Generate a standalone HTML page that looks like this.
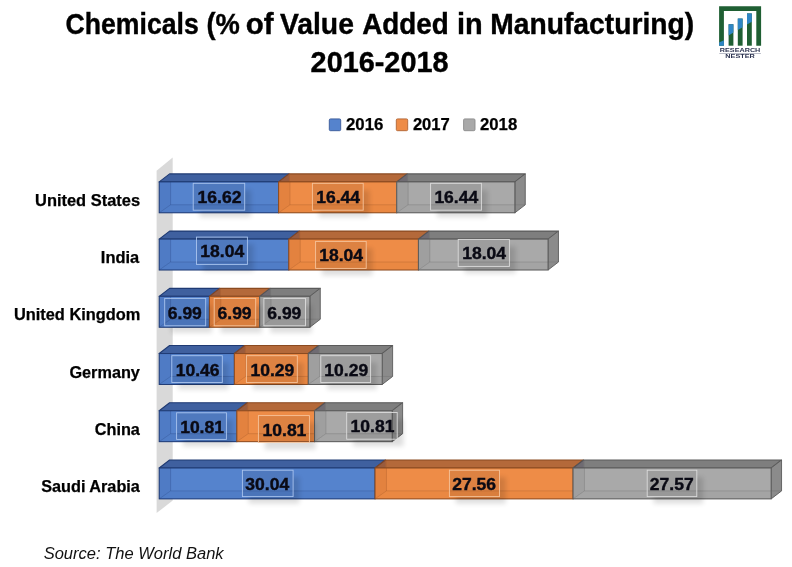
<!DOCTYPE html>
<html><head><meta charset="utf-8"><title>Chart</title>
<style>
html,body{margin:0;padding:0;background:#fff;}
body{width:792px;height:567px;overflow:hidden;position:relative;font-family:"Liberation Sans",sans-serif;}
svg{position:absolute;left:0;top:0;display:block;will-change:transform;}
text{font-family:"Liberation Sans",sans-serif;}
</style></head><body>
<svg width="792" height="567" viewBox="0 0 792 567">
<defs>
<filter id="sh" x="-30%" y="-30%" width="170%" height="200%"><feGaussianBlur stdDeviation="2.6"/></filter>
</defs>
<rect width="792" height="567" fill="#ffffff"/>

<text x="65.57" y="33.6" font-size="29.5" font-weight="bold" fill="#000" stroke="#000" stroke-width="0.4" textLength="133.21" lengthAdjust="spacingAndGlyphs">Chemicals</text>
<text x="206.52" y="33.6" font-size="29.5" font-weight="bold" fill="#000" stroke="#000" stroke-width="0.4" textLength="33.37" lengthAdjust="spacingAndGlyphs">(%</text>
<text x="245.68" y="33.6" font-size="29.5" font-weight="bold" fill="#000" stroke="#000" stroke-width="0.4" textLength="27.8" lengthAdjust="spacingAndGlyphs">of</text>
<text x="279.9" y="33.6" font-size="29.5" font-weight="bold" fill="#000" stroke="#000" stroke-width="0.4" textLength="74.01" lengthAdjust="spacingAndGlyphs">Value</text>
<text x="362.16" y="33.6" font-size="29.5" font-weight="bold" fill="#000" stroke="#000" stroke-width="0.4" textLength="86.62" lengthAdjust="spacingAndGlyphs">Added</text>
<text x="456.99" y="33.6" font-size="29.5" font-weight="bold" fill="#000" stroke="#000" stroke-width="0.4" textLength="25.71" lengthAdjust="spacingAndGlyphs">in</text>
<text x="490.23" y="33.6" font-size="29.5" font-weight="bold" fill="#000" stroke="#000" stroke-width="0.4" textLength="203.99" lengthAdjust="spacingAndGlyphs">Manufacturing)</text>
<text x="310.6" y="72" font-size="29.4" font-weight="bold" fill="#000" stroke="#000" stroke-width="0.4" textLength="137.92" lengthAdjust="spacingAndGlyphs">2016-2018</text>
<rect x="329.3" y="118.9" width="11.4" height="11.8" rx="1.2" fill="#5583cd" stroke="#3a5a98" stroke-width="0.9"/>
<text x="345.98" y="130.3" font-size="16.8" font-weight="bold" fill="#000" stroke="#000" stroke-width="0.25" textLength="37.34" lengthAdjust="spacingAndGlyphs">2016</text>
<rect x="396.3" y="118.9" width="11.4" height="11.8" rx="1.2" fill="#ee8c47" stroke="#b06434" stroke-width="0.9"/>
<text x="412.88" y="130.3" font-size="16.8" font-weight="bold" fill="#000" stroke="#000" stroke-width="0.25" textLength="36.99" lengthAdjust="spacingAndGlyphs">2017</text>
<rect x="463.6" y="118.9" width="11.4" height="11.8" rx="1.2" fill="#a9a9a9" stroke="#8b8b8b" stroke-width="0.9"/>
<text x="479.98" y="130.3" font-size="16.8" font-weight="bold" fill="#000" stroke="#000" stroke-width="0.25" textLength="37.24" lengthAdjust="spacingAndGlyphs">2018</text>
<polygon points="156.6,170.8 172.7,157.6 172.7,500.5 156.6,513.1" fill="#d9d9d9"/>
<text x="35.03" y="206" font-size="16.2" font-weight="bold" fill="#000" stroke="#000" stroke-width="0.25" textLength="105.04" lengthAdjust="spacingAndGlyphs">United States</text>
<polygon points="159.2,181.9 169.6,173.9 289.01,173.9 278.61,181.9" fill="#3f609f" stroke="#1f3a73" stroke-width="1.1" stroke-linejoin="round"/>
<polygon points="278.61,181.9 289.01,173.9 407.14,173.9 396.74,181.9" fill="#b4693a" stroke="#8a4a20" stroke-width="1.1" stroke-linejoin="round"/>
<polygon points="396.74,181.9 407.14,173.9 525.26,173.9 514.86,181.9" fill="#7e7e7e" stroke="#5a5a5a" stroke-width="1.1" stroke-linejoin="round"/>
<polygon points="278.61,181.9 289.01,173.9 289.01,181.9" fill="#3a2a4a" fill-opacity="0.22"/>
<path d="M289.51,173.9 V181.9" stroke="#8a4a20" stroke-opacity="0.35" stroke-width="0.8" fill="none"/>
<polygon points="396.74,181.9 407.14,173.9 407.14,181.9" fill="#3a2a4a" fill-opacity="0.22"/>
<path d="M407.64,173.9 V181.9" stroke="#5a5a5a" stroke-opacity="0.35" stroke-width="0.8" fill="none"/>
<polygon points="514.86,181.9 525.26,173.9 525.26,204.8 514.86,212.8" fill="#8b8b8b" stroke="#5a5a5a" stroke-width="0.9" stroke-linejoin="round"/>
<path d="M514.86,204.8 H525.26" stroke="#5a5a5a" stroke-opacity="0.3" stroke-width="0.8" fill="none"/>
<rect x="159.2" y="181.9" width="119.41" height="30.9" fill="#5583cd"/>
<polygon points="159.2,181.9 170.6,181.9 170.6,204.8 159.2,212.8" fill="#4f7bc5"/>
<polygon points="159.2,212.8 170.6,204.8 278.61,204.8 278.61,212.8" fill="#507dc7"/>
<path d="M170.6,181.9 V204.8 H278.61 M159.2,212.8 L170.6,204.8" fill="none" stroke="#1f3a73" stroke-opacity="0.28" stroke-width="0.9"/>
<rect x="159.2" y="181.9" width="119.41" height="30.9" fill="none" stroke="#1f3a73" stroke-width="1"/>
<rect x="278.61" y="181.9" width="118.12" height="30.9" fill="#ee8c47"/>
<polygon points="278.61,181.9 290.01,181.9 290.01,204.8 278.61,212.8" fill="#e3823f"/>
<polygon points="278.61,212.8 290.01,204.8 396.74,204.8 396.74,212.8" fill="#ea8842"/>
<path d="M290.01,181.9 V204.8 H396.74 M278.61,212.8 L290.01,204.8" fill="none" stroke="#8a4a20" stroke-opacity="0.28" stroke-width="0.9"/>
<rect x="278.61" y="181.9" width="118.12" height="30.9" fill="none" stroke="#8a4a20" stroke-width="1"/>
<rect x="396.74" y="181.9" width="118.12" height="30.9" fill="#a9a9a9"/>
<polygon points="396.74,181.9 408.14,181.9 408.14,204.8 396.74,212.8" fill="#9f9f9f"/>
<polygon points="396.74,212.8 408.14,204.8 514.86,204.8 514.86,212.8" fill="#a4a4a4"/>
<path d="M408.14,181.9 V204.8 H514.86 M396.74,212.8 L408.14,204.8" fill="none" stroke="#5a5a5a" stroke-opacity="0.28" stroke-width="0.9"/>
<rect x="396.74" y="181.9" width="118.12" height="30.9" fill="none" stroke="#5a5a5a" stroke-width="1"/>
<clipPath id="c00"><path clip-rule="evenodd" d="M0,0H792V567H0Z M193.2,183.3H244.7V210.2H193.2Z"/></clipPath>
<g clip-path="url(#c00)"><rect x="199.5" y="190.3" width="51.5" height="26.9" fill="#000" opacity="0.13" filter="url(#sh)"/></g>
<clipPath id="c01"><path clip-rule="evenodd" d="M0,0H792V567H0Z M312.4,183.3H363.2V210.2H312.4Z"/></clipPath>
<g clip-path="url(#c01)"><rect x="318.7" y="190.3" width="50.8" height="26.9" fill="#000" opacity="0.13" filter="url(#sh)"/></g>
<clipPath id="c02"><path clip-rule="evenodd" d="M0,0H792V567H0Z M430.6,183.3H481.4V210.2H430.6Z"/></clipPath>
<g clip-path="url(#c02)"><rect x="436.9" y="190.3" width="50.8" height="26.9" fill="#000" opacity="0.13" filter="url(#sh)"/></g>
<rect x="193.2" y="183.3" width="51.5" height="26.9" fill="#000" fill-opacity="0.07" stroke="#a9c4ee" stroke-width="0.9"/>
<text x="197.62" y="203.25" font-size="16.5" font-weight="bold" fill="#0a0a14" stroke="#0a0a14" stroke-width="0.4" textLength="43.79" lengthAdjust="spacingAndGlyphs">16.62</text>
<rect x="312.4" y="183.3" width="50.8" height="26.9" fill="#000" fill-opacity="0.07" stroke="#f6c39b" stroke-width="0.9"/>
<text x="316.2" y="203.25" font-size="16.5" font-weight="bold" fill="#0a0a14" stroke="#0a0a14" stroke-width="0.4" textLength="43.79" lengthAdjust="spacingAndGlyphs">16.44</text>
<rect x="430.6" y="183.3" width="50.8" height="26.9" fill="#000" fill-opacity="0.07" stroke="#dcdcdc" stroke-width="0.9"/>
<text x="434.4" y="203.25" font-size="16.5" font-weight="bold" fill="#0a0a14" stroke="#0a0a14" stroke-width="0.4" textLength="43.79" lengthAdjust="spacingAndGlyphs">16.44</text>
<text x="100.87" y="263.22" font-size="16.2" font-weight="bold" fill="#000" stroke="#000" stroke-width="0.25" textLength="38.42" lengthAdjust="spacingAndGlyphs">India</text>
<polygon points="159.2,239.12 169.6,231.12 299.22,231.12 288.82,239.12" fill="#3f609f" stroke="#1f3a73" stroke-width="1.1" stroke-linejoin="round"/>
<polygon points="288.82,239.12 299.22,231.12 428.83,231.12 418.43,239.12" fill="#b4693a" stroke="#8a4a20" stroke-width="1.1" stroke-linejoin="round"/>
<polygon points="418.43,239.12 428.83,231.12 558.45,231.12 548.05,239.12" fill="#7e7e7e" stroke="#5a5a5a" stroke-width="1.1" stroke-linejoin="round"/>
<polygon points="288.82,239.12 299.22,231.12 299.22,239.12" fill="#3a2a4a" fill-opacity="0.22"/>
<path d="M299.72,231.12 V239.12" stroke="#8a4a20" stroke-opacity="0.35" stroke-width="0.8" fill="none"/>
<polygon points="418.43,239.12 428.83,231.12 428.83,239.12" fill="#3a2a4a" fill-opacity="0.22"/>
<path d="M429.33,231.12 V239.12" stroke="#5a5a5a" stroke-opacity="0.35" stroke-width="0.8" fill="none"/>
<polygon points="548.05,239.12 558.45,231.12 558.45,262.02 548.05,270.02" fill="#8b8b8b" stroke="#5a5a5a" stroke-width="0.9" stroke-linejoin="round"/>
<path d="M548.05,262.02 H558.45" stroke="#5a5a5a" stroke-opacity="0.3" stroke-width="0.8" fill="none"/>
<rect x="159.2" y="239.12" width="129.62" height="30.9" fill="#5583cd"/>
<polygon points="159.2,239.12 170.6,239.12 170.6,262.02 159.2,270.02" fill="#4f7bc5"/>
<polygon points="159.2,270.02 170.6,262.02 288.82,262.02 288.82,270.02" fill="#507dc7"/>
<path d="M170.6,239.12 V262.02 H288.82 M159.2,270.02 L170.6,262.02" fill="none" stroke="#1f3a73" stroke-opacity="0.28" stroke-width="0.9"/>
<rect x="159.2" y="239.12" width="129.62" height="30.9" fill="none" stroke="#1f3a73" stroke-width="1"/>
<rect x="288.82" y="239.12" width="129.62" height="30.9" fill="#ee8c47"/>
<polygon points="288.82,239.12 300.22,239.12 300.22,262.02 288.82,270.02" fill="#e3823f"/>
<polygon points="288.82,270.02 300.22,262.02 418.43,262.02 418.43,270.02" fill="#ea8842"/>
<path d="M300.22,239.12 V262.02 H418.43 M288.82,270.02 L300.22,262.02" fill="none" stroke="#8a4a20" stroke-opacity="0.28" stroke-width="0.9"/>
<rect x="288.82" y="239.12" width="129.62" height="30.9" fill="none" stroke="#8a4a20" stroke-width="1"/>
<rect x="418.43" y="239.12" width="129.62" height="30.9" fill="#a9a9a9"/>
<polygon points="418.43,239.12 429.83,239.12 429.83,262.02 418.43,270.02" fill="#9f9f9f"/>
<polygon points="418.43,270.02 429.83,262.02 548.05,262.02 548.05,270.02" fill="#a4a4a4"/>
<path d="M429.83,239.12 V262.02 H548.05 M418.43,270.02 L429.83,262.02" fill="none" stroke="#5a5a5a" stroke-opacity="0.28" stroke-width="0.9"/>
<rect x="418.43" y="239.12" width="129.62" height="30.9" fill="none" stroke="#5a5a5a" stroke-width="1"/>
<clipPath id="c10"><path clip-rule="evenodd" d="M0,0H792V567H0Z M196.5,237.1H247.4V264.4H196.5Z"/></clipPath>
<g clip-path="url(#c10)"><rect x="202.8" y="244.1" width="50.9" height="27.3" fill="#000" opacity="0.13" filter="url(#sh)"/></g>
<clipPath id="c11"><path clip-rule="evenodd" d="M0,0H792V567H0Z M315.6,241.4H366.2V268.4H315.6Z"/></clipPath>
<g clip-path="url(#c11)"><rect x="321.9" y="248.4" width="50.6" height="27" fill="#000" opacity="0.13" filter="url(#sh)"/></g>
<clipPath id="c12"><path clip-rule="evenodd" d="M0,0H792V567H0Z M458.2,239.5H509.4V266.4H458.2Z"/></clipPath>
<g clip-path="url(#c12)"><rect x="464.5" y="246.5" width="51.2" height="26.9" fill="#000" opacity="0.13" filter="url(#sh)"/></g>
<rect x="196.5" y="237.1" width="50.9" height="27.3" fill="#000" fill-opacity="0.07" stroke="#a9c4ee" stroke-width="0.9"/>
<text x="200.35" y="257.25" font-size="16.5" font-weight="bold" fill="#0a0a14" stroke="#0a0a14" stroke-width="0.4" textLength="43.79" lengthAdjust="spacingAndGlyphs">18.04</text>
<rect x="315.6" y="241.4" width="50.6" height="27" fill="#000" fill-opacity="0.07" stroke="#f6c39b" stroke-width="0.9"/>
<text x="319.3" y="261.4" font-size="16.5" font-weight="bold" fill="#0a0a14" stroke="#0a0a14" stroke-width="0.4" textLength="43.79" lengthAdjust="spacingAndGlyphs">18.04</text>
<rect x="458.2" y="239.5" width="51.2" height="26.9" fill="#000" fill-opacity="0.07" stroke="#dcdcdc" stroke-width="0.9"/>
<text x="462.2" y="259.45" font-size="16.5" font-weight="bold" fill="#0a0a14" stroke="#0a0a14" stroke-width="0.4" textLength="43.79" lengthAdjust="spacingAndGlyphs">18.04</text>
<text x="13.93" y="320.44" font-size="16.2" font-weight="bold" fill="#000" stroke="#000" stroke-width="0.25" textLength="126.47" lengthAdjust="spacingAndGlyphs">United Kingdom</text>
<polygon points="159.2,296.34 169.6,288.34 219.82,288.34 209.42,296.34" fill="#3f609f" stroke="#1f3a73" stroke-width="1.1" stroke-linejoin="round"/>
<polygon points="209.42,296.34 219.82,288.34 270.05,288.34 259.65,296.34" fill="#b4693a" stroke="#8a4a20" stroke-width="1.1" stroke-linejoin="round"/>
<polygon points="259.65,296.34 270.05,288.34 320.27,288.34 309.87,296.34" fill="#7e7e7e" stroke="#5a5a5a" stroke-width="1.1" stroke-linejoin="round"/>
<polygon points="209.42,296.34 219.82,288.34 219.82,296.34" fill="#3a2a4a" fill-opacity="0.22"/>
<path d="M220.32,288.34 V296.34" stroke="#8a4a20" stroke-opacity="0.35" stroke-width="0.8" fill="none"/>
<polygon points="259.65,296.34 270.05,288.34 270.05,296.34" fill="#3a2a4a" fill-opacity="0.22"/>
<path d="M270.55,288.34 V296.34" stroke="#5a5a5a" stroke-opacity="0.35" stroke-width="0.8" fill="none"/>
<polygon points="309.87,296.34 320.27,288.34 320.27,319.24 309.87,327.24" fill="#8b8b8b" stroke="#5a5a5a" stroke-width="0.9" stroke-linejoin="round"/>
<path d="M309.87,319.24 H320.27" stroke="#5a5a5a" stroke-opacity="0.3" stroke-width="0.8" fill="none"/>
<rect x="159.2" y="296.34" width="50.22" height="30.9" fill="#5583cd"/>
<polygon points="159.2,296.34 170.6,296.34 170.6,319.24 159.2,327.24" fill="#4f7bc5"/>
<polygon points="159.2,327.24 170.6,319.24 209.42,319.24 209.42,327.24" fill="#507dc7"/>
<path d="M170.6,296.34 V319.24 H209.42 M159.2,327.24 L170.6,319.24" fill="none" stroke="#1f3a73" stroke-opacity="0.28" stroke-width="0.9"/>
<rect x="159.2" y="296.34" width="50.22" height="30.9" fill="none" stroke="#1f3a73" stroke-width="1"/>
<rect x="209.42" y="296.34" width="50.22" height="30.9" fill="#ee8c47"/>
<polygon points="209.42,296.34 220.82,296.34 220.82,319.24 209.42,327.24" fill="#e3823f"/>
<polygon points="209.42,327.24 220.82,319.24 259.65,319.24 259.65,327.24" fill="#ea8842"/>
<path d="M220.82,296.34 V319.24 H259.65 M209.42,327.24 L220.82,319.24" fill="none" stroke="#8a4a20" stroke-opacity="0.28" stroke-width="0.9"/>
<rect x="209.42" y="296.34" width="50.22" height="30.9" fill="none" stroke="#8a4a20" stroke-width="1"/>
<rect x="259.65" y="296.34" width="50.22" height="30.9" fill="#a9a9a9"/>
<polygon points="259.65,296.34 271.05,296.34 271.05,319.24 259.65,327.24" fill="#9f9f9f"/>
<polygon points="259.65,327.24 271.05,319.24 309.87,319.24 309.87,327.24" fill="#a4a4a4"/>
<path d="M271.05,296.34 V319.24 H309.87 M259.65,327.24 L271.05,319.24" fill="none" stroke="#5a5a5a" stroke-opacity="0.28" stroke-width="0.9"/>
<rect x="259.65" y="296.34" width="50.22" height="30.9" fill="none" stroke="#5a5a5a" stroke-width="1"/>
<clipPath id="c20"><path clip-rule="evenodd" d="M0,0H792V567H0Z M164.7,298.4H205.7V325.8H164.7Z"/></clipPath>
<g clip-path="url(#c20)"><rect x="171" y="305.4" width="41" height="27.4" fill="#000" opacity="0.13" filter="url(#sh)"/></g>
<clipPath id="c21"><path clip-rule="evenodd" d="M0,0H792V567H0Z M214.2,298.4H255.7V325.8H214.2Z"/></clipPath>
<g clip-path="url(#c21)"><rect x="220.5" y="305.4" width="41.5" height="27.4" fill="#000" opacity="0.13" filter="url(#sh)"/></g>
<clipPath id="c22"><path clip-rule="evenodd" d="M0,0H792V567H0Z M263.9,298.4H305.5V325.8H263.9Z"/></clipPath>
<g clip-path="url(#c22)"><rect x="270.2" y="305.4" width="41.6" height="27.4" fill="#000" opacity="0.13" filter="url(#sh)"/></g>
<rect x="164.7" y="298.4" width="41" height="27.4" fill="#000" fill-opacity="0.07" stroke="#a9c4ee" stroke-width="0.9"/>
<text x="167.81" y="318.6" font-size="16.5" font-weight="bold" fill="#0a0a14" stroke="#0a0a14" stroke-width="0.4" textLength="34.06" lengthAdjust="spacingAndGlyphs">6.99</text>
<rect x="214.2" y="298.4" width="41.5" height="27.4" fill="#000" fill-opacity="0.07" stroke="#f6c39b" stroke-width="0.9"/>
<text x="217.56" y="318.6" font-size="16.5" font-weight="bold" fill="#0a0a14" stroke="#0a0a14" stroke-width="0.4" textLength="34.06" lengthAdjust="spacingAndGlyphs">6.99</text>
<rect x="263.9" y="298.4" width="41.6" height="27.4" fill="#000" fill-opacity="0.07" stroke="#dcdcdc" stroke-width="0.9"/>
<text x="267.31" y="318.6" font-size="16.5" font-weight="bold" fill="#0a0a14" stroke="#0a0a14" stroke-width="0.4" textLength="34.06" lengthAdjust="spacingAndGlyphs">6.99</text>
<text x="139.9" y="377.66" font-size="16.25" font-weight="bold" fill="#000" stroke="#000" stroke-width="0.25" text-anchor="end">Germany</text>
<polygon points="159.2,353.56 169.6,345.56 244.76,345.56 234.36,353.56" fill="#3f609f" stroke="#1f3a73" stroke-width="1.1" stroke-linejoin="round"/>
<polygon points="234.36,353.56 244.76,345.56 318.69,345.56 308.29,353.56" fill="#b4693a" stroke="#8a4a20" stroke-width="1.1" stroke-linejoin="round"/>
<polygon points="308.29,353.56 318.69,345.56 392.62,345.56 382.22,353.56" fill="#7e7e7e" stroke="#5a5a5a" stroke-width="1.1" stroke-linejoin="round"/>
<polygon points="234.36,353.56 244.76,345.56 244.76,353.56" fill="#3a2a4a" fill-opacity="0.22"/>
<path d="M245.26,345.56 V353.56" stroke="#8a4a20" stroke-opacity="0.35" stroke-width="0.8" fill="none"/>
<polygon points="308.29,353.56 318.69,345.56 318.69,353.56" fill="#3a2a4a" fill-opacity="0.22"/>
<path d="M319.19,345.56 V353.56" stroke="#5a5a5a" stroke-opacity="0.35" stroke-width="0.8" fill="none"/>
<polygon points="382.22,353.56 392.62,345.56 392.62,376.46 382.22,384.46" fill="#8b8b8b" stroke="#5a5a5a" stroke-width="0.9" stroke-linejoin="round"/>
<path d="M382.22,376.46 H392.62" stroke="#5a5a5a" stroke-opacity="0.3" stroke-width="0.8" fill="none"/>
<rect x="159.2" y="353.56" width="75.16" height="30.9" fill="#5583cd"/>
<polygon points="159.2,353.56 170.6,353.56 170.6,376.46 159.2,384.46" fill="#4f7bc5"/>
<polygon points="159.2,384.46 170.6,376.46 234.36,376.46 234.36,384.46" fill="#507dc7"/>
<path d="M170.6,353.56 V376.46 H234.36 M159.2,384.46 L170.6,376.46" fill="none" stroke="#1f3a73" stroke-opacity="0.28" stroke-width="0.9"/>
<rect x="159.2" y="353.56" width="75.16" height="30.9" fill="none" stroke="#1f3a73" stroke-width="1"/>
<rect x="234.36" y="353.56" width="73.93" height="30.9" fill="#ee8c47"/>
<polygon points="234.36,353.56 245.76,353.56 245.76,376.46 234.36,384.46" fill="#e3823f"/>
<polygon points="234.36,384.46 245.76,376.46 308.29,376.46 308.29,384.46" fill="#ea8842"/>
<path d="M245.76,353.56 V376.46 H308.29 M234.36,384.46 L245.76,376.46" fill="none" stroke="#8a4a20" stroke-opacity="0.28" stroke-width="0.9"/>
<rect x="234.36" y="353.56" width="73.93" height="30.9" fill="none" stroke="#8a4a20" stroke-width="1"/>
<rect x="308.29" y="353.56" width="73.93" height="30.9" fill="#a9a9a9"/>
<polygon points="308.29,353.56 319.69,353.56 319.69,376.46 308.29,384.46" fill="#9f9f9f"/>
<polygon points="308.29,384.46 319.69,376.46 382.22,376.46 382.22,384.46" fill="#a4a4a4"/>
<path d="M319.69,353.56 V376.46 H382.22 M308.29,384.46 L319.69,376.46" fill="none" stroke="#5a5a5a" stroke-opacity="0.28" stroke-width="0.9"/>
<rect x="308.29" y="353.56" width="73.93" height="30.9" fill="none" stroke="#5a5a5a" stroke-width="1"/>
<clipPath id="c30"><path clip-rule="evenodd" d="M0,0H792V567H0Z M171.8,355.7H222.3V382.5H171.8Z"/></clipPath>
<g clip-path="url(#c30)"><rect x="178.1" y="362.7" width="50.5" height="26.8" fill="#000" opacity="0.13" filter="url(#sh)"/></g>
<clipPath id="c31"><path clip-rule="evenodd" d="M0,0H792V567H0Z M246.4,355.7H297.3V382.5H246.4Z"/></clipPath>
<g clip-path="url(#c31)"><rect x="252.7" y="362.7" width="50.9" height="26.8" fill="#000" opacity="0.13" filter="url(#sh)"/></g>
<clipPath id="c32"><path clip-rule="evenodd" d="M0,0H792V567H0Z M320.8,355.7H370.6V382.5H320.8Z"/></clipPath>
<g clip-path="url(#c32)"><rect x="327.1" y="362.7" width="49.8" height="26.8" fill="#000" opacity="0.13" filter="url(#sh)"/></g>
<rect x="171.8" y="355.7" width="50.5" height="26.8" fill="#000" fill-opacity="0.07" stroke="#a9c4ee" stroke-width="0.9"/>
<text x="175.72" y="375.6" font-size="16.5" font-weight="bold" fill="#0a0a14" stroke="#0a0a14" stroke-width="0.4" textLength="43.79" lengthAdjust="spacingAndGlyphs">10.46</text>
<rect x="246.4" y="355.7" width="50.9" height="26.8" fill="#000" fill-opacity="0.07" stroke="#f6c39b" stroke-width="0.9"/>
<text x="250.52" y="375.6" font-size="16.5" font-weight="bold" fill="#0a0a14" stroke="#0a0a14" stroke-width="0.4" textLength="43.79" lengthAdjust="spacingAndGlyphs">10.29</text>
<rect x="320.8" y="355.7" width="49.8" height="26.8" fill="#000" fill-opacity="0.07" stroke="#dcdcdc" stroke-width="0.9"/>
<text x="324.37" y="375.6" font-size="16.5" font-weight="bold" fill="#0a0a14" stroke="#0a0a14" stroke-width="0.4" textLength="43.79" lengthAdjust="spacingAndGlyphs">10.29</text>
<text x="139.9" y="434.88" font-size="16.25" font-weight="bold" fill="#000" stroke="#000" stroke-width="0.25" text-anchor="end">China</text>
<polygon points="159.2,410.78 169.6,402.78 247.27,402.78 236.87,410.78" fill="#3f609f" stroke="#1f3a73" stroke-width="1.1" stroke-linejoin="round"/>
<polygon points="236.87,410.78 247.27,402.78 324.94,402.78 314.54,410.78" fill="#b4693a" stroke="#8a4a20" stroke-width="1.1" stroke-linejoin="round"/>
<polygon points="314.54,410.78 324.94,402.78 402.61,402.78 392.21,410.78" fill="#7e7e7e" stroke="#5a5a5a" stroke-width="1.1" stroke-linejoin="round"/>
<polygon points="236.87,410.78 247.27,402.78 247.27,410.78" fill="#3a2a4a" fill-opacity="0.22"/>
<path d="M247.77,402.78 V410.78" stroke="#8a4a20" stroke-opacity="0.35" stroke-width="0.8" fill="none"/>
<polygon points="314.54,410.78 324.94,402.78 324.94,410.78" fill="#3a2a4a" fill-opacity="0.22"/>
<path d="M325.44,402.78 V410.78" stroke="#5a5a5a" stroke-opacity="0.35" stroke-width="0.8" fill="none"/>
<polygon points="392.21,410.78 402.61,402.78 402.61,433.68 392.21,441.68" fill="#8b8b8b" stroke="#5a5a5a" stroke-width="0.9" stroke-linejoin="round"/>
<path d="M392.21,433.68 H402.61" stroke="#5a5a5a" stroke-opacity="0.3" stroke-width="0.8" fill="none"/>
<rect x="159.2" y="410.78" width="77.67" height="30.9" fill="#5583cd"/>
<polygon points="159.2,410.78 170.6,410.78 170.6,433.68 159.2,441.68" fill="#4f7bc5"/>
<polygon points="159.2,441.68 170.6,433.68 236.87,433.68 236.87,441.68" fill="#507dc7"/>
<path d="M170.6,410.78 V433.68 H236.87 M159.2,441.68 L170.6,433.68" fill="none" stroke="#1f3a73" stroke-opacity="0.28" stroke-width="0.9"/>
<rect x="159.2" y="410.78" width="77.67" height="30.9" fill="none" stroke="#1f3a73" stroke-width="1"/>
<rect x="236.87" y="410.78" width="77.67" height="30.9" fill="#ee8c47"/>
<polygon points="236.87,410.78 248.27,410.78 248.27,433.68 236.87,441.68" fill="#e3823f"/>
<polygon points="236.87,441.68 248.27,433.68 314.54,433.68 314.54,441.68" fill="#ea8842"/>
<path d="M248.27,410.78 V433.68 H314.54 M236.87,441.68 L248.27,433.68" fill="none" stroke="#8a4a20" stroke-opacity="0.28" stroke-width="0.9"/>
<rect x="236.87" y="410.78" width="77.67" height="30.9" fill="none" stroke="#8a4a20" stroke-width="1"/>
<rect x="314.54" y="410.78" width="77.67" height="30.9" fill="#a9a9a9"/>
<polygon points="314.54,410.78 325.94,410.78 325.94,433.68 314.54,441.68" fill="#9f9f9f"/>
<polygon points="314.54,441.68 325.94,433.68 392.21,433.68 392.21,441.68" fill="#a4a4a4"/>
<path d="M325.94,410.78 V433.68 H392.21 M314.54,441.68 L325.94,433.68" fill="none" stroke="#5a5a5a" stroke-opacity="0.28" stroke-width="0.9"/>
<rect x="314.54" y="410.78" width="77.67" height="30.9" fill="none" stroke="#5a5a5a" stroke-width="1"/>
<clipPath id="c40"><path clip-rule="evenodd" d="M0,0H792V567H0Z M176.6,412.8H226.4V439.4H176.6Z"/></clipPath>
<g clip-path="url(#c40)"><rect x="182.9" y="419.8" width="49.8" height="26.6" fill="#000" opacity="0.13" filter="url(#sh)"/></g>
<clipPath id="c41"><path clip-rule="evenodd" d="M0,0H792V567H0Z M258.4,415.6H309.4V442.4H258.4Z"/></clipPath>
<g clip-path="url(#c41)"><rect x="264.7" y="422.6" width="51" height="26.8" fill="#000" opacity="0.13" filter="url(#sh)"/></g>
<clipPath id="c42"><path clip-rule="evenodd" d="M0,0H792V567H0Z M346.7,412.5H397.2V439.2H346.7Z"/></clipPath>
<g clip-path="url(#c42)"><rect x="353" y="419.5" width="50.5" height="26.7" fill="#000" opacity="0.13" filter="url(#sh)"/></g>
<rect x="176.6" y="412.8" width="49.8" height="26.6" fill="#000" fill-opacity="0.07" stroke="#a9c4ee" stroke-width="0.9"/>
<text x="180.17" y="432.6" font-size="16.5" font-weight="bold" fill="#0a0a14" stroke="#0a0a14" stroke-width="0.4" textLength="43.79" lengthAdjust="spacingAndGlyphs">10.81</text>
<rect x="258.4" y="415.6" width="51" height="26.8" fill="#000" fill-opacity="0.07" stroke="#f6c39b" stroke-width="0.9"/>
<text x="262.57" y="435.5" font-size="16.5" font-weight="bold" fill="#0a0a14" stroke="#0a0a14" stroke-width="0.4" textLength="43.79" lengthAdjust="spacingAndGlyphs">10.81</text>
<rect x="346.7" y="412.5" width="50.5" height="26.7" fill="#000" fill-opacity="0.07" stroke="#dcdcdc" stroke-width="0.9"/>
<text x="350.62" y="432.35" font-size="16.5" font-weight="bold" fill="#0a0a14" stroke="#0a0a14" stroke-width="0.4" textLength="43.79" lengthAdjust="spacingAndGlyphs">10.81</text>
<text x="139.9" y="492.1" font-size="16.25" font-weight="bold" fill="#000" stroke="#000" stroke-width="0.25" text-anchor="end">Saudi Arabia</text>
<polygon points="159.2,468 169.6,460 385.44,460 375.04,468" fill="#3f609f" stroke="#1f3a73" stroke-width="1.1" stroke-linejoin="round"/>
<polygon points="375.04,468 385.44,460 583.46,460 573.06,468" fill="#b4693a" stroke="#8a4a20" stroke-width="1.1" stroke-linejoin="round"/>
<polygon points="573.06,468 583.46,460 781.55,460 771.15,468" fill="#7e7e7e" stroke="#5a5a5a" stroke-width="1.1" stroke-linejoin="round"/>
<polygon points="375.04,468 385.44,460 385.44,468" fill="#3a2a4a" fill-opacity="0.22"/>
<path d="M385.94,460 V468" stroke="#8a4a20" stroke-opacity="0.35" stroke-width="0.8" fill="none"/>
<polygon points="573.06,468 583.46,460 583.46,468" fill="#3a2a4a" fill-opacity="0.22"/>
<path d="M583.96,460 V468" stroke="#5a5a5a" stroke-opacity="0.35" stroke-width="0.8" fill="none"/>
<polygon points="771.15,468 781.55,460 781.55,490.9 771.15,498.9" fill="#8b8b8b" stroke="#5a5a5a" stroke-width="0.9" stroke-linejoin="round"/>
<path d="M771.15,490.9 H781.55" stroke="#5a5a5a" stroke-opacity="0.3" stroke-width="0.8" fill="none"/>
<rect x="159.2" y="468" width="215.84" height="30.9" fill="#5583cd"/>
<polygon points="159.2,468 170.6,468 170.6,490.9 159.2,498.9" fill="#4f7bc5"/>
<polygon points="159.2,498.9 170.6,490.9 375.04,490.9 375.04,498.9" fill="#507dc7"/>
<path d="M170.6,468 V490.9 H375.04 M159.2,498.9 L170.6,490.9" fill="none" stroke="#1f3a73" stroke-opacity="0.28" stroke-width="0.9"/>
<rect x="159.2" y="468" width="215.84" height="30.9" fill="none" stroke="#1f3a73" stroke-width="1"/>
<rect x="375.04" y="468" width="198.02" height="30.9" fill="#ee8c47"/>
<polygon points="375.04,468 386.44,468 386.44,490.9 375.04,498.9" fill="#e3823f"/>
<polygon points="375.04,498.9 386.44,490.9 573.06,490.9 573.06,498.9" fill="#ea8842"/>
<path d="M386.44,468 V490.9 H573.06 M375.04,498.9 L386.44,490.9" fill="none" stroke="#8a4a20" stroke-opacity="0.28" stroke-width="0.9"/>
<rect x="375.04" y="468" width="198.02" height="30.9" fill="none" stroke="#8a4a20" stroke-width="1"/>
<rect x="573.06" y="468" width="198.09" height="30.9" fill="#a9a9a9"/>
<polygon points="573.06,468 584.46,468 584.46,490.9 573.06,498.9" fill="#9f9f9f"/>
<polygon points="573.06,498.9 584.46,490.9 771.15,490.9 771.15,498.9" fill="#a4a4a4"/>
<path d="M584.46,468 V490.9 H771.15 M573.06,498.9 L584.46,490.9" fill="none" stroke="#5a5a5a" stroke-opacity="0.28" stroke-width="0.9"/>
<rect x="573.06" y="468" width="198.09" height="30.9" fill="none" stroke="#5a5a5a" stroke-width="1"/>
<clipPath id="c50"><path clip-rule="evenodd" d="M0,0H792V567H0Z M242.4,470.2H293.1V496.6H242.4Z"/></clipPath>
<g clip-path="url(#c50)"><rect x="248.7" y="477.2" width="50.7" height="26.4" fill="#000" opacity="0.13" filter="url(#sh)"/></g>
<clipPath id="c51"><path clip-rule="evenodd" d="M0,0H792V567H0Z M449.4,470.2H499.5V496.6H449.4Z"/></clipPath>
<g clip-path="url(#c51)"><rect x="455.7" y="477.2" width="50.1" height="26.4" fill="#000" opacity="0.13" filter="url(#sh)"/></g>
<clipPath id="c52"><path clip-rule="evenodd" d="M0,0H792V567H0Z M647.2,470.2H696.8V496.6H647.2Z"/></clipPath>
<g clip-path="url(#c52)"><rect x="653.5" y="477.2" width="49.6" height="26.4" fill="#000" opacity="0.13" filter="url(#sh)"/></g>
<rect x="242.4" y="470.2" width="50.7" height="26.4" fill="#000" fill-opacity="0.07" stroke="#a9c4ee" stroke-width="0.9"/>
<text x="245.36" y="489.9" font-size="16.5" font-weight="bold" fill="#0a0a14" stroke="#0a0a14" stroke-width="0.4" textLength="43.79" lengthAdjust="spacingAndGlyphs">30.04</text>
<rect x="449.4" y="470.2" width="50.1" height="26.4" fill="#000" fill-opacity="0.07" stroke="#f6c39b" stroke-width="0.9"/>
<text x="452.2" y="489.9" font-size="16.5" font-weight="bold" fill="#0a0a14" stroke="#0a0a14" stroke-width="0.4" textLength="43.79" lengthAdjust="spacingAndGlyphs">27.56</text>
<rect x="647.2" y="470.2" width="49.6" height="26.4" fill="#000" fill-opacity="0.07" stroke="#dcdcdc" stroke-width="0.9"/>
<text x="649.88" y="489.9" font-size="16.5" font-weight="bold" fill="#0a0a14" stroke="#0a0a14" stroke-width="0.4" textLength="43.79" lengthAdjust="spacingAndGlyphs">27.57</text>
<text x="43.64" y="559.4" font-size="16.8" font-weight="normal" font-style="italic" fill="#111" textLength="179.98" lengthAdjust="spacingAndGlyphs">Source: The World Bank</text>
<g id="logo">
<path d="M719.1,6.2 H761.1 V45.7 H756.3 V10.9 H723.9 V45.7 H719.1 Z" fill="#1f5f33"/>
<polygon points="719.1,45.7 719.1,42.6 723.9,40.2 723.9,45.7" fill="#2f86c5"/>
<rect x="728.6" y="24.2" width="4.8" height="21.5" fill="#1f5f33"/>
<polygon points="728.6,24.2 733.4,24.2 733.4,32.5 728.6,35.5" fill="#2f86c5"/>
<rect x="737.8" y="18.6" width="4.8" height="27.1" fill="#1f5f33"/>
<polygon points="737.8,18.6 742.6,18.6 742.6,27.2 737.8,30.0" fill="#2f86c5"/>
<rect x="747.0" y="13.4" width="4.8" height="32.3" fill="#1f5f33"/>
<polygon points="747.0,13.4 751.8,13.4 751.8,21.8 747.0,24.6" fill="#2f86c5"/>
<text x="740.1" y="52.0" font-size="5.2" font-weight="bold" fill="#2c3350" text-anchor="middle" textLength="40.5" lengthAdjust="spacingAndGlyphs">RESEARCH</text>
<rect x="719.3" y="53.0" width="41.6" height="0.6" fill="#8a8fa3"/>
<text x="740.1" y="58.4" font-size="4.8" font-weight="bold" fill="#2c3350" text-anchor="middle" textLength="29.5" lengthAdjust="spacingAndGlyphs">NESTER</text>
</g>
</svg></body></html>
